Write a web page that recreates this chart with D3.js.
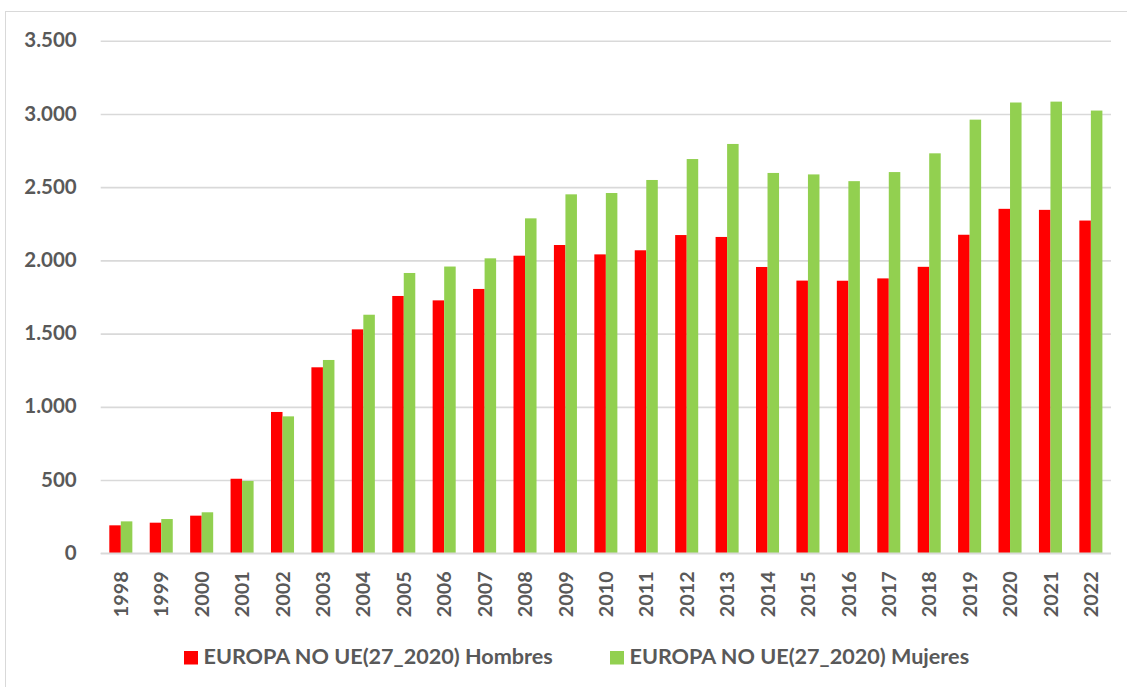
<!DOCTYPE html>
<html>
<head>
<meta charset="utf-8">
<script src="https://cdn.jsdelivr.net/npm/d3@7"></script>
<style>
  html, body { margin: 0; padding: 0; background: #fff; }
  svg { display: block; font-family: Lato, "Open Sans", sans-serif; }
</style>
</head>
<body>
<svg id="chart" width="1127" height="687"></svg>
<script>
// data
const years = ["1998","1999","2000","2001","2002","2003","2004","2005","2006","2007","2008","2009","2010",
               "2011","2012","2013","2014","2015","2016","2017","2018","2019","2020","2021","2022"];
const hombres = [191, 209, 257, 509, 965, 1270, 1529, 1757, 1727, 1805, 2032, 2105, 2041,
                 2069, 2173, 2160, 1955, 1862, 1861, 1877, 1956, 2175, 2352, 2345, 2272];
const mujeres = [218, 234, 280, 494, 935, 1320, 1629, 1914, 1958, 2014, 2287, 2451, 2460,
                 2549, 2692, 2795, 2597, 2587, 2541, 2603, 2731, 2961, 3078, 3084, 3023];
const seriesNames = ["EUROPA NO UE(27_2020) Hombres", "EUROPA NO UE(27_2020) Mujeres"];
const seriesColors = ["#ff0000", "#92d050"];
const yTicks = [0, 500, 1000, 1500, 2000, 2500, 3000, 3500];

const textColor = "#595959";
const gridColor = "#d9d9d9";

const svg = d3.select("#chart");

// outer chart frame
svg.append("rect")
    .attr("x", 5.5).attr("y", 11.5)
    .attr("width", 1140).attr("height", 700)
    .attr("fill", "none").attr("stroke", gridColor).attr("stroke-width", 1);

const plot = { left: 100.7, right: 1111, top: 40.7, bottom: 553.3 };

const x = d3.scaleBand().domain(years)
    .range([plot.left, plot.right])
    .paddingInner(0.43).paddingOuter(0.213);
const xs = d3.scaleBand().domain(d3.range(seriesNames.length)).range([0, x.bandwidth()]);
const y = d3.scaleLinear().domain([0, 3500]).range([plot.bottom, plot.top]);

// gridlines + y labels
const yAxis = d3.axisLeft(y).tickValues(yTicks)
    .tickSize(-(plot.right - plot.left)).tickPadding(24)
    .tickFormat(d => d3.format(",")(d).replace(/,/g, "."));
const gy = svg.append("g").attr("transform", `translate(${plot.left},0)`).call(yAxis);
gy.select(".domain").remove();
gy.selectAll(".tick line").attr("stroke", gridColor).attr("stroke-width", 1.6);
gy.selectAll(".tick text")
    .attr("fill", textColor).attr("font-size", "20.5px").attr("font-weight", 700)
    .attr("font-family", "Lato, sans-serif").attr("dy", "0.3em");

// bars
const rows = years.map((yr, i) => ({ year: yr, values: [hombres[i], mujeres[i]] }));
const groups = svg.append("g").selectAll("g").data(rows).enter().append("g")
    .attr("transform", d => `translate(${x(d.year)},0)`);
groups.selectAll("rect").data(d => d.values.map((v, k) => ({ k, v }))).enter().append("rect")
    .attr("x", d => xs(d.k))
    .attr("width", xs.bandwidth())
    .attr("y", d => y(d.v))
    .attr("height", d => y(0) - y(d.v))
    .attr("fill", d => seriesColors[d.k]);

// x labels, rotated
const xAxis = d3.axisBottom(x).tickSize(0).tickPadding(0);
const gx = svg.append("g").attr("transform", `translate(0,${plot.bottom})`).call(xAxis);
gx.select(".domain").remove();
gx.selectAll(".tick text")
    .attr("fill", textColor).attr("font-size", "19.8px").attr("font-weight", 700)
    .attr("font-family", "Lato, sans-serif")
    .attr("text-anchor", "end")
    .attr("transform", "translate(0,18) rotate(-90)")
    .attr("x", 0).attr("y", 0).attr("dy", "0.36em");

// baseline drawn over the bars
svg.append("line")
    .attr("x1", plot.left).attr("x2", plot.right)
    .attr("y1", y(0)).attr("y2", y(0))
    .attr("stroke", gridColor).attr("stroke-width", 1.6);

// legend
const legendX = [184, 610];
const legend = svg.append("g").selectAll("g").data(seriesNames).enter().append("g")
    .attr("transform", (d, i) => `translate(${legendX[i]},651)`);
legend.append("rect").attr("width", 14).attr("height", 13.5).attr("fill", (d, i) => seriesColors[i]);
legend.append("text")
    .attr("x", 19.5).attr("y", 13.3)
    .attr("fill", textColor).attr("font-size", "21.6px").attr("font-weight", 700)
    .attr("font-family", "Lato, sans-serif")
    .text(d => d);
</script>
</body>
</html>
